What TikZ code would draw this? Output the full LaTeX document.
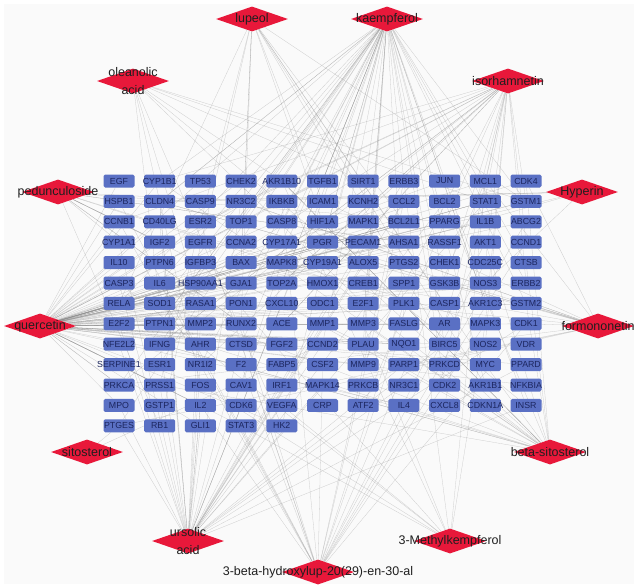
\documentclass[tikz,border=0pt]{standalone}
\usepackage{fontspec}
\newfontfamily\arialfont{Liberation Sans}
\usetikzlibrary{shapes.geometric}
\pgfdeclarelayer{canvas}
\pgfdeclarelayer{edges}
\pgfsetlayers{canvas,edges,main}

\definecolor{drugred}{RGB}{232,24,58}
\definecolor{genefill}{RGB}{90,112,196}
\definecolor{genetxt}{RGB}{28,38,95}
\definecolor{linkgray}{RGB}{140,140,140}
\definecolor{paper}{RGB}{250,250,250}

\tikzset{
  gene/.style={rectangle, rounded corners=1.6pt, fill=genefill, draw=none,
    minimum width=31pt, minimum height=13pt, inner sep=0pt},
  genetext/.style={text=genetxt, inner sep=0pt,
    font=\arialfont\fontsize{8.8}{9}\selectfont},
  drug/.style={diamond, fill=drugred, draw=none, inner sep=0pt,
    minimum width=72pt, minimum height=25pt},
  drugtext/.style={text={black!88}, inner sep=0pt, align=center,
    font=\arialfont\fontsize{12.5}{17.5}\selectfont},
  link/.style={draw=linkgray, line width=0.28pt, opacity=0.42},
}

% one compound: diamond plus its name on top
\newcommand\compound[3]{%
  \node[drug] (#1) at (#2) {};
  \node[drugtext] at (#1) {#3};
}

% deterministic pseudo-random compound--target links
\newcommand\linkrandom[2]{%
  \begin{pgfonlayer}{edges}
  \foreach \k in {1,...,#2}{%
    \pgfmathrandominteger{\r}{1}{137}%
    \draw[link] (#1) -- (n\r);
  }
  \end{pgfonlayer}}

\begin{document}
\begin{tikzpicture}[x=1pt,y=-1pt]
\useasboundingbox (0,0) rectangle (634,584);
\begin{pgfonlayer}{canvas}
  \fill[white] (0,0) rectangle (634,584);
  \fill[paper] (4,4) rectangle (634,584);
\end{pgfonlayer}

% target grid
\foreach \row [count=\r from 0] in {
  {EGF,CYP1B1,TP53,CHEK2,AKR1B10,TGFB1,SIRT1,ERBB3,JUN,MCL1,CDK4},
  {HSPB1,CLDN4,CASP9,NR3C2,IKBKB,ICAM1,KCNH2,CCL2,BCL2,STAT1,GSTM1},
  {CCNB1,CD40LG,ESR2,TOP1,CASP8,HIF1A,MAPK1,BCL2L1,PPARG,IL1B,ABCG2},
  {CYP1A1,IGF2,EGFR,CCNA2,CYP17A1,PGR,PECAM1,AHSA1,RASSF1,AKT1,CCND1},
  {IL10,PTPN6,IGFBP3,BAX,MAPK8,CYP19A1,ALOX5,PTGS2,CHEK1,CDC25C,CTSB},
  {CASP3,IL6,HSP90AA1,GJA1,TOP2A,HMOX1,CREB1,SPP1,GSK3B,NOS3,ERBB2},
  {RELA,SOD1,RASA1,PON1,CXCL10,ODC1,E2F1,PLK1,CASP1,AKR1C3,GSTM2},
  {E2F2,PTPN1,MMP2,RUNX2,ACE,MMP1,MMP3,FASLG,AR,MAPK3,CDK1},
  {NFE2L2,IFNG,AHR,CTSD,FGF2,CCND2,PLAU,NQO1,BIRC5,NOS2,VDR},
  {SERPINE1,ESR1,NR1I2,F2,FABP5,CSF2,MMP9,PARP1,PRKCD,MYC,PPARD},
  {PRKCA,PRSS1,FOS,CAV1,IRF1,MAPK14,PRKCB,NR3C1,CDK2,AKR1B1,NFKBIA},
  {MPO,GSTP1,IL2,CDK6,VEGFA,CRP,ATF2,IL4,CXCL8,CDKN1A,INSR},
  {PTGES,RB1,GLI1,STAT3,HK2}} {
  \foreach \g [count=\c from 0] in \row {
    \pgfmathtruncatemacro\idx{\r*11+\c+1}
    \node[gene, label={[genetext]center:\g}] (n\idx)
      at ({119+40.7*\c},{181+20.4*\r}) {};
  }
}

% compounds
\compound{lupeol}{252,19}{lupeol}
\compound{kaempferol}{387,19}{kaempferol}
\compound{oleanolic}{133,81}{oleanolic\\acid}
\compound{isorhamnetin}{508,81}{isorhamnetin}
\compound{pedunculoside}{58,192}{pedunculoside}
\compound{hyperin}{582,192}{Hyperin}
\compound{quercetin}{40,326}{quercetin}
\compound{formononetin}{598,326}{formononetin}
\compound{sitosterol}{87,452}{sitosterol}
\compound{betasitosterol}{550,452}{beta-sitosterol}
\compound{ursolic}{188,541}{ursolic\\acid}
\compound{methylkempferol}{450,541}{3-Methylkempferol}
\compound{hydroxylupenal}{318,572}{3-beta-hydroxylup-20(29)-en-30-al}

% compound--target links
\pgfmathsetseed{4711}
\linkrandom{quercetin}{105}
\linkrandom{kaempferol}{50}
\linkrandom{ursolic}{40}
\linkrandom{isorhamnetin}{28}
\linkrandom{hydroxylupenal}{22}
\linkrandom{betasitosterol}{22}
\linkrandom{formononetin}{18}
\linkrandom{lupeol}{14}
\linkrandom{pedunculoside}{14}
\linkrandom{oleanolic}{10}
\linkrandom{methylkempferol}{10}
\linkrandom{hyperin}{6}
\linkrandom{sitosterol}{2}
\end{tikzpicture}
\end{document}
